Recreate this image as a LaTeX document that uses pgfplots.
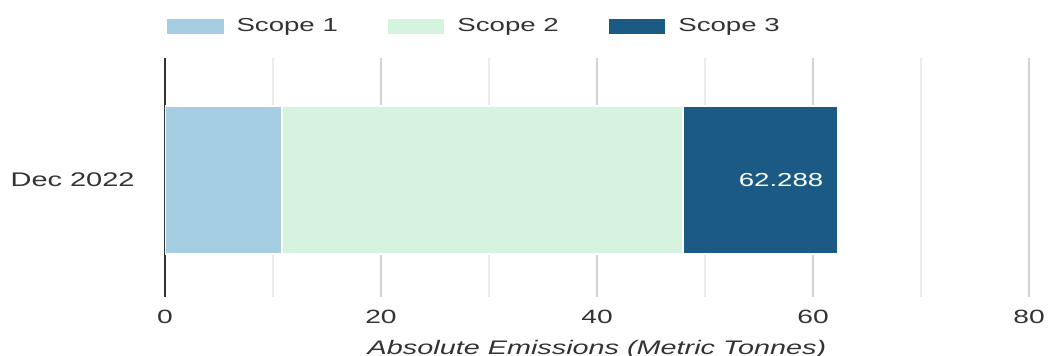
\documentclass[border=0pt]{standalone}
\usepackage{fontspec}
\setmainfont{Liberation Sans}[FakeStretch=1.47]
\usepackage{pgfplots}
\pgfplotsset{compat=1.18}
\definecolor{sone}{HTML}{A6CEE3}
\definecolor{stwo}{HTML}{D6F3DF}
\definecolor{sthree}{HTML}{1B5A85}
\definecolor{txt}{HTML}{333333}
\definecolor{gmaj}{HTML}{D4D4D4}
\definecolor{gmin}{HTML}{EBEBEB}
\begin{document}
\fontsize{9.4pt}{11pt}\selectfont
\begin{tikzpicture}
\begin{axis}[
  scale only axis, width=432pt, height=119.5pt,
  xbar stacked, bar width=74pt,
  xmin=0, xmax=80, ymin=-0.98, ymax=1.02,
  axis y line*=left, axis x line*=bottom,
  axis line style={-},
  x axis line style={draw=none},
  y axis line style={txt, line width=1pt},
  xtick={0,20,40,60,80}, minor xtick={10,30,50,70},
  xmajorgrids, xminorgrids,
  major grid style={gmaj, line width=0.75pt},
  minor grid style={gmin, line width=0.75pt},
  major tick length=0pt, minor tick length=0pt,
  /pgf/number format/assume math mode=true,
  xticklabel style={anchor=base, inner sep=0pt, yshift=-13.15pt, text=txt, font=\fontsize{9.6pt}{11pt}\selectfont},
  ytick={0}, yticklabels={Dec 2022},
  yticklabel style={anchor=east, inner sep=0pt, xshift=-15pt, text=txt, font=\fontsize{9.85pt}{11pt}\selectfont},
  xlabel={\itshape Absolute Emissions (Metric Tonnes)},
  xlabel style={at={(axis description cs:0.5,0)}, anchor=base, inner sep=0pt, yshift=-28.75pt, text=txt, font=\fontsize{9.8pt}{11pt}\selectfont},
  legend columns=3,
  legend style={at={(0,1)}, anchor=west, yshift=15.9pt, draw=none, fill=none,
    inner sep=0pt, outer sep=0pt, column sep=0pt,
    /tikz/every even column/.append style={column sep=18.5pt},
    nodes={inner xsep=5.5pt, inner ysep=0pt, text=txt}},
  legend cell align=left,
  legend image code/.code={\fill[#1] (0pt,-4.25pt) rectangle (29.25pt,4.25pt);},
]
\coordinate (sw) at (rel axis cs:0,0);
\coordinate (ne) at (rel axis cs:1,1);
\addplot[fill=sone, draw=white, line width=1pt] coordinates {(10.8,0)};
\addlegendentry{Scope 1}
\addplot[fill=stwo, draw=white, line width=1pt] coordinates {(37.2,0)};
\addlegendentry{Scope 2}
\addplot[fill=sthree, draw=white, line width=1pt,
  point meta=explicit symbolic, nodes near coords,
  nodes near coords align={anchor=center},
  every node near coord/.append style={anchor=center, text=white, inner sep=0pt, xshift=10.25pt}]
  coordinates {(14.288,0) [62.288]};
\addlegendentry{Scope 3}
\end{axis}
\pgfresetboundingbox
\path[use as bounding box] ([shift={(-82.5pt,-29.5pt)}]sw) rectangle ([shift={(11pt,29pt)}]ne);
\end{tikzpicture}
\end{document}
